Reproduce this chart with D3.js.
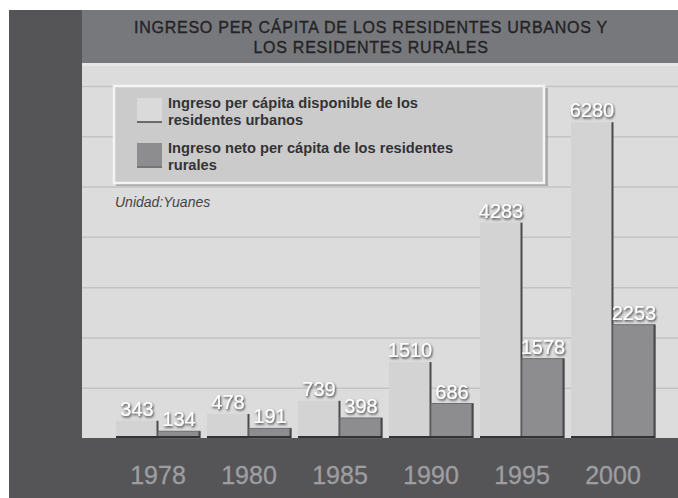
<!DOCTYPE html>
<html>
<head>
<meta charset="utf-8">
<script src="https://cdn.jsdelivr.net/npm/d3@7"></script>
<style>
  body { margin: 0; background: #fff; }
  svg { display: block; font-family: "Liberation Sans", Arial, sans-serif; }
  svg text { font-family: "Liberation Sans", Arial, sans-serif; }
</style>
</head>
<body>
<div id="chart"></div>
<script>
// Data
const years = ["1978", "1980", "1985", "1990", "1995", "2000"];
const urbanIncome = [343, 478, 739, 1510, 4283, 6280];
const ruralIncome = [134, 191, 398, 686, 1578, 2253];
const seriesKeys = ["urban", "rural"];
const legendLines = [
    ["Ingreso per cápita disponible de los", "residentes urbanos"],
    ["Ingreso neto per cápita de los residentes", "rurales"]
];
const titleLines = ["INGRESO PER CÁPITA DE LOS RESIDENTES URBANOS Y", "LOS RESIDENTES RURALES"];
const unitLabel = "Unidad:Yuanes";
const gridValues = [1000, 2000, 3000, 4000, 5000, 6000, 7000];

const data = years.map((y, i) => ({year: y, urban: urbanIncome[i], rural: ruralIncome[i]}));

const W = 678, H = 498;
const plotLeft = 82, plotTop = 63, baseY = 438;

const svg = d3.select("#chart")
    .append("svg")
    .attr("width", W)
    .attr("height", H);

// shadow for the value labels
const defs = svg.append("defs");
const f = defs.append("filter").attr("id", "shadow")
    .attr("x", "-20%").attr("y", "-30%").attr("width", "150%").attr("height", "170%");
f.append("feDropShadow")
    .attr("dx", 1).attr("dy", 1.5)
    .attr("stdDeviation", 1)
    .attr("flood-color", "#222")
    .attr("flood-opacity", 0.9);

// background blocks
svg.append("rect").attr("x", 9).attr("y", 10).attr("width", W - 9).attr("height", H - 10).attr("fill", "#555558");
svg.append("rect").attr("x", plotLeft).attr("y", 10).attr("width", W - plotLeft).attr("height", plotTop - 10).attr("fill", "#77787c");
svg.append("rect").attr("x", plotLeft).attr("y", plotTop).attr("width", W - plotLeft).attr("height", baseY - plotTop).attr("fill", "#dcdcdc");
svg.append("rect").attr("x", plotLeft).attr("y", plotTop).attr("width", W - plotLeft).attr("height", 3).attr("fill", "#e6e6e6");

// Scales
const x = d3.scaleBand()
    .domain(years)
    .range([112.5, 658.5])
    .paddingInner(0.077)
    .paddingOuter(0.0385);

const xs = d3.scaleBand()
    .domain(seriesKeys)
    .range([0, x.bandwidth()]);

const y = d3.scaleLinear()
    .domain([0, 7000])
    .range([baseY, 86]);

// gridlines
const grid = svg.append("g")
    .attr("transform", `translate(${plotLeft},0)`)
    .call(d3.axisLeft(y).tickValues(gridValues).tickSize(-(W - plotLeft)).tickFormat(""));
grid.select(".domain").remove();
grid.selectAll(".tick line").attr("stroke", "#c3c3c3").attr("stroke-width", 1.5);

// bars
const groups = svg.selectAll(".group")
    .data(data)
    .join("g")
    .attr("class", "group")
    .attr("transform", d => `translate(${x(d.year)},0)`);

// urban bars
groups.append("rect")
    .attr("x", xs("urban"))
    .attr("y", d => y(d.urban))
    .attr("width", xs.bandwidth())
    .attr("height", d => baseY - y(d.urban))
    .attr("fill", "#d3d3d4");
groups.append("line")
    .attr("x1", xs("urban") + xs.bandwidth() - 0.5)
    .attr("x2", xs("urban") + xs.bandwidth() - 0.5)
    .attr("y1", d => y(d.urban))
    .attr("y2", baseY)
    .attr("stroke", "#4a4a4c")
    .attr("stroke-width", 2);

// rural bars
groups.append("rect")
    .attr("x", xs("rural"))
    .attr("y", d => y(d.rural))
    .attr("width", xs.bandwidth())
    .attr("height", d => baseY - y(d.rural))
    .attr("fill", "#8d8d8f")
    .attr("stroke", "#6e6e70")
    .attr("stroke-width", 1);
groups.append("line")
    .attr("x1", xs("rural") + xs.bandwidth() - 0.5)
    .attr("x2", xs("rural") + xs.bandwidth() - 0.5)
    .attr("y1", d => y(d.rural))
    .attr("y2", baseY)
    .attr("stroke", "#4a4a4c")
    .attr("stroke-width", 2);

// dark base under each pair
groups.append("line")
    .attr("x1", 0)
    .attr("x2", x.bandwidth())
    .attr("y1", baseY - 1)
    .attr("y2", baseY - 1)
    .attr("stroke", "#333335")
    .attr("stroke-width", 2);

// value labels
seriesKeys.forEach(k => {
    groups.append("text")
        .attr("x", xs(k) + xs.bandwidth() / 2)
        .attr("y", d => y(d[k]) - 5)
        .attr("text-anchor", "middle")
        .attr("font-size", 20)
        .attr("fill", "#ffffff")
        .attr("filter", "url(#shadow)")
        .text(d => d[k]);
});

// year axis
const xAxis = svg.append("g")
    .attr("transform", `translate(0,${baseY})`)
    .call(d3.axisBottom(x).tickSize(0).tickPadding(28));
xAxis.select(".domain").remove();
xAxis.attr("font-family", null);
xAxis.selectAll(".tick text")
    .style("font-family", "'Liberation Sans', Arial, sans-serif")
    .style("font-size", "25px")
    .attr("fill", "#9e9ea0")
    .attr("stroke", "#9e9ea0")
    .attr("stroke-width", 0.3);

// title
svg.append("g").selectAll("text")
    .data(titleLines)
    .join("text")
    .attr("x", 371)
    .attr("y", (d, i) => 33 + i * 20)
    .attr("text-anchor", "middle")
    .attr("font-size", 16)
    .attr("fill", "#232325")
    .attr("stroke", "#232325")
    .attr("stroke-width", 0.35)
    .attr("letter-spacing", 0.75)
    .text(d => d);

// legend
const legend = svg.append("g");
legend.append("rect")
    .attr("x", 116).attr("y", 88).attr("width", 432).attr("height", 98)
    .attr("fill", "#8a8a8c").attr("opacity", 0.6);
legend.append("rect")
    .attr("x", 114).attr("y", 86).attr("width", 430).attr("height", 97)
    .attr("fill", "#cbcbcc")
    .attr("stroke", "#f4f4f4")
    .attr("stroke-width", 2.5);

const swatchFill = ["#dadadb", "#8d8d8f"];
legendLines.forEach((lines, i) => {
    const top = 98 + i * 45;
    legend.append("rect")
        .attr("x", 137).attr("y", top).attr("width", 25).attr("height", 25)
        .attr("fill", swatchFill[i]);
    legend.append("line")
        .attr("x1", 137).attr("x2", 162)
        .attr("y1", top + 24).attr("y2", top + 24)
        .attr("stroke", i === 0 ? "#6a6a6c" : "#767678")
        .attr("stroke-width", 2);
    lines.forEach((t, j) => {
        legend.append("text")
            .attr("class", "legText")
            .attr("x", 168)
            .attr("y", top + 10 + j * 17)
            .attr("font-size", 15)
            .attr("font-weight", "bold")
            .attr("fill", "#333335")
            .text(t);
    });
});

// squeeze legend text to the narrow look of the original
const first = legend.select(".legText").node();
const squeeze = 250 / first.getComputedTextLength();
legend.selectAll(".legText").each(function () {
    const n = this.getComputedTextLength();
    d3.select(this).attr("textLength", n * squeeze).attr("lengthAdjust", "spacingAndGlyphs");
});

// unit
svg.append("text")
    .attr("x", 115)
    .attr("y", 207)
    .attr("font-size", 14)
    .attr("font-style", "italic")
    .attr("fill", "#444446")
    .text(unitLabel);
</script>
</body>
</html>
